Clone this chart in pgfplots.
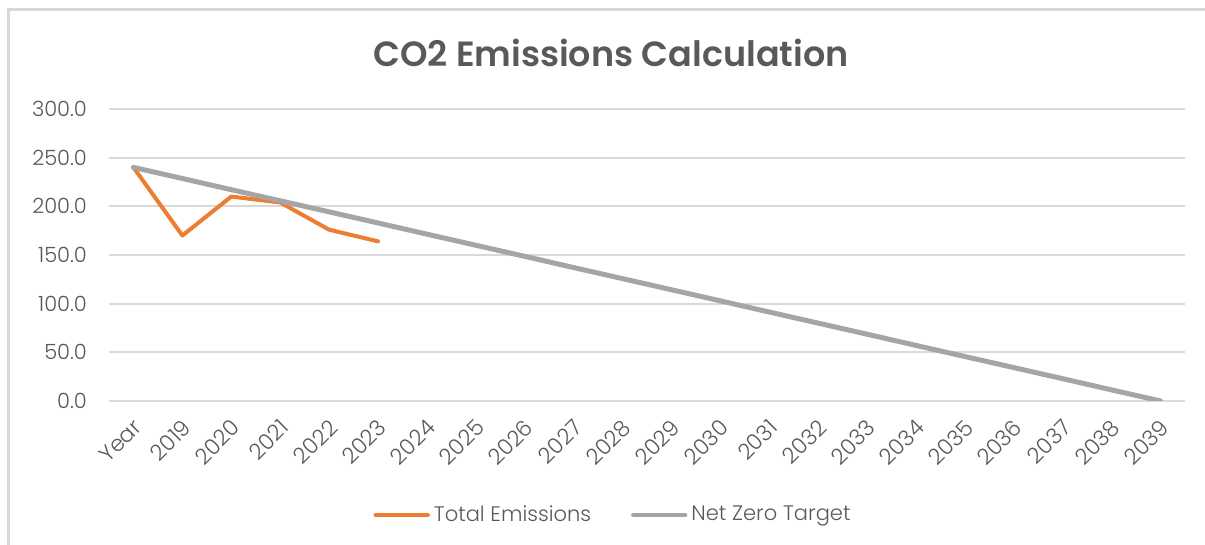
\documentclass[border=0pt]{standalone}
\usepackage{fontspec}
\setmainfont{Poppins}[UprightFont={* Light}, BoldFont={* SemiBold}]
\usepackage{pgfplots}
\pgfplotsset{compat=1.18}
\definecolor{txt}{HTML}{595959}
\definecolor{gridc}{HTML}{D9D9D9}
\definecolor{orng}{HTML}{ED7D31}
\definecolor{gry}{HTML}{A5A5A5}
\begin{document}
\begin{tikzpicture}[x=1pt,y=1pt]
\useasboundingbox (-54.5,-72) rectangle (548,200.5);
\draw[line width=1.5pt, color=gridc] (-50,-73) -- (-50,195.5) -- (549,195.5);
\begin{axis}[
  at={(0,0)}, anchor=south west,
  scale only axis, width=538pt, height=146pt,
  xmin=-0.5, xmax=21.5, ymin=0, ymax=300,
  ytick={0,50,100,150,200,250,300},
  xtick={0,...,21},
  xticklabels={Year,2019,2020,2021,2022,2023,2024,2025,2026,2027,2028,2029,2030,2031,2032,2033,2034,2035,2036,2037,2038,2039},
  yticklabel={\pgfmathprintnumber[fixed,fixed zerofill,precision=1]{\tick}},
  /pgf/number format/assume math mode=true,
  ymajorgrids, grid style={color=gridc, line width=1pt},
  axis line style={draw=none},
  major tick length=0pt,
  tick label style={font=\fontsize{10.5}{12}\selectfont, color=txt},
  yticklabel style={xshift=-7.5pt},
  xticklabel style={rotate=45, anchor=north east, xshift=-3pt, yshift=-2pt, font=\fontsize{11}{12}\selectfont},
  title={CO2 Emissions Calculation},
  title style={at={(0.5,1)}, anchor=base, yshift=15pt, xshift=-18pt, font=\bfseries\fontsize{17.5}{20}\selectfont, color=txt},
  legend style={at={(0.5,0)}, anchor=center, yshift=-57pt, xshift=-16.5pt, draw=none, fill=none, legend columns=2, font=\fontsize{10.5}{12}\selectfont, text=txt, /tikz/every even column/.append style={column sep=18pt}},
  legend cell align=left,
  legend image code/.code={\draw[#1, line width=2.2pt] (0pt,0pt) -- (26pt,0pt);},
]
\addplot[orng, line width=2pt, line cap=round, line join=round] coordinates {
(0,240) (1,170) (2,210) (3,204) (4,176) (5,164)};
\addlegendentry{Total Emissions}
\addplot[gry, line width=2.5pt, line cap=round] coordinates {
(0,240.0) (1,228.6) (2,217.1) (3,205.7) (4,194.3) (5,182.9) (6,171.4) (7,160.0) (8,148.6) (9,137.1) (10,125.7) (11,114.3) (12,102.9) (13,91.4) (14,80.0) (15,68.6) (16,57.1) (17,45.7) (18,34.3) (19,22.9) (20,11.4) (21,0.0)};
\addlegendentry{Net Zero Target}
\end{axis}
\end{tikzpicture}
\end{document}
